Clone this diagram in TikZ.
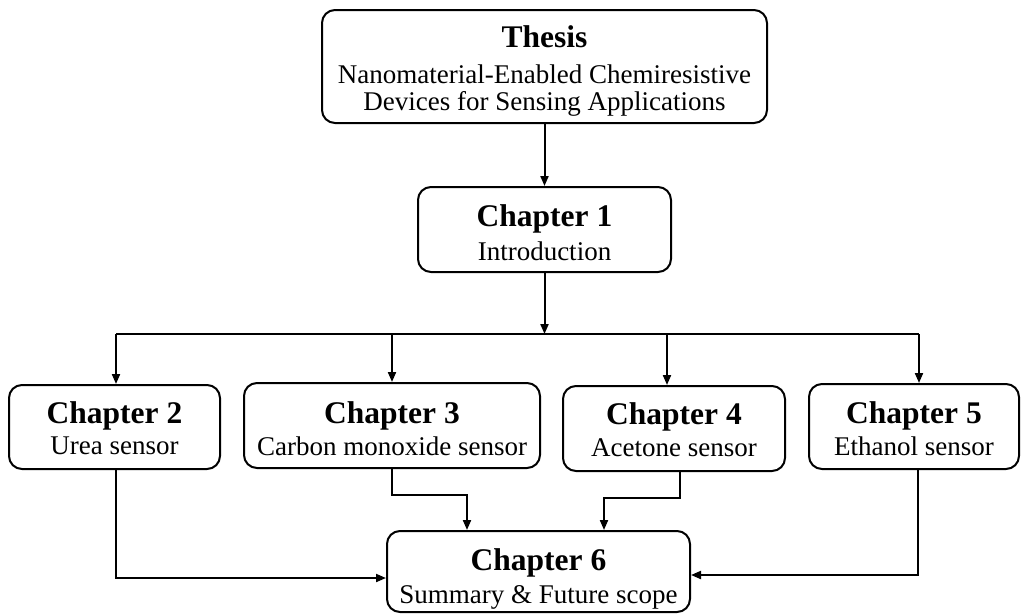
\documentclass[tikz,border=0pt]{standalone}
\usepackage{fontspec}
\setmainfont{Liberation Serif}
\usetikzlibrary{arrows.meta,calc}
\begin{document}
\begin{tikzpicture}[x=1pt,y=-1pt,
  box/.style={draw, line width=2pt, rounded corners=13pt, inner sep=0pt},
  head/.style={anchor=base, inner sep=0pt, font=\fontsize{31.5}{32}\selectfont\bfseries},
  body/.style={anchor=base, inner sep=0pt, font=\fontsize{27}{27}\selectfont},
  conn/.style={line width=2pt},
  arr/.style={conn, -{Triangle[length=10pt,width=8pt]}}]
\useasboundingbox (0,0) rectangle (1022,614);

% boxes
\node[box, minimum width=445pt, minimum height=113pt] (th) at (544.5,66.5) {};
\node[box, minimum width=253pt, minimum height=85pt] (c1) at (544.5,229.5) {};
\node[box, minimum width=211pt, minimum height=84pt] (c2) at (114.5,427) {};
\node[box, minimum width=296pt, minimum height=85pt] (c3) at (392,425.5) {};
\node[box, minimum width=222pt, minimum height=85pt] (c4) at (674,428.5) {};
\node[box, minimum width=210pt, minimum height=85pt] (c5) at (914,426.5) {};
\node[box, minimum width=303pt, minimum height=81pt] (c6) at (538.5,571.5) {};

% texts
\node[head] (tht) at (544.5,47) {Thesis};
\node[body] (th1) at (544.5,83) {Nanomaterial-Enabled Chemiresistive};
\node[body] (th2) at (544.5,110) {Devices for Sensing Applications};

\node[head] (c1h) at (544.5,226) {Chapter 1};
\node[body] (c1b) at (544.5,260) {Introduction};

\node[head] (c2h) at (114.5,423) {Chapter 2};
\node[body] (c2b) at (114.5,454) {Urea sensor};

\node[head] (c3h) at (392,423) {Chapter 3};
\node[body] (c3b) at (392,455) {Carbon monoxide sensor};

\node[head] (c4h) at (674,424) {Chapter 4};
\node[body] (c4b) at (674,456) {Acetone sensor};

\node[head] (c5h) at (914,423) {Chapter 5};
\node[body] (c5b) at (914,455) {Ethanol sensor};

\node[head] (c6h) at (538.5,570) {Chapter 6};
\node[body] (c6b) at (538.5,603) {Summary \& Future scope};

% connectors top
\draw[arr] (th.south) -- (c1.north);
\coordinate (bus) at (544.5,334);
\draw[arr] (c1.south) -- (bus);
\coordinate (b2) at (116,334);
\coordinate (b4) at (667,334);
\coordinate (b5) at (919,334);
\draw[conn] (b2) -- (b5);
\draw[arr] (b2) -- (b2 |- c2.north);
\draw[arr] (c3.north |- bus) -- (c3.north);
\draw[arr] (b4) -- (b4 |- c4.north);
\draw[arr] (b5) -- (b5 |- c5.north);

% connectors bottom
\coordinate (j2) at (116,578);
\draw[arr] (j2 |- c2.south) -- (j2) -- (j2 -| c6.west);
\coordinate (j3) at (392,495);
\coordinate (k3) at (467,495);
\draw[arr] (c3.south) -- (j3) -- (k3) -- (k3 |- c6.north);
\coordinate (j4) at (680,498);
\coordinate (k4) at (604,498);
\draw[arr] (j4 |- c4.south) -- (j4) -- (k4) -- (k4 |- c6.north);
\coordinate (j5) at (918,575);
\draw[arr] (j5 |- c5.south) -- (j5) -- (j5 -| c6.east);
\end{tikzpicture}
\end{document}
